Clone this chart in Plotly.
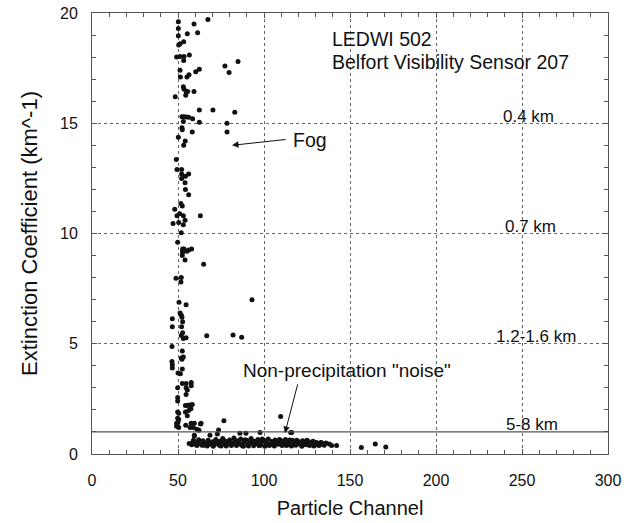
import plotly.graph_objects as go

# ---- data: vertical "fog" column (particle channel, extinction coefficient) ----
fog_x = [50.2, 59.3, 50.2, 61.4, 50.2, 55.4, 53.3, 51.2, 50.4, 49.2, 51.2, 53.5, 56.6, 53.3,
         51.2, 62.4, 60.3, 56.4, 55.2, 51.4, 53.1, 53.5, 54.7, 55.6, 54.5, 59.3, 48.4, 62.4,
         52.3, 53.5, 54.7, 56.2, 58.5, 62.4, 53.1, 52.3, 52.5, 58.3, 50.2, 54.2, 53.3, 49.0,
         49.4, 52.1, 52.1, 54.3, 56.2, 52.1, 54.1, 54.3, 56.2, 51.7, 52.5, 48.1, 51.0, 53.1,
         63.0, 49.4, 50.4, 54.1, 47.1, 53.1, 51.9, 49.8, 52.7, 53.5, 57.9, 56.2, 52.7, 52.5,
         52.7, 55.2, 54.1, 64.9, 48.8, 51.9, 51.7, 50.6, 54.7, 51.2, 51.9, 52.3, 46.7, 52.7,
         46.7, 52.1, 52.7, 51.9, 53.1, 54.7, 66.7, 46.5, 52.5, 51.9, 53.1, 52.3, 46.5, 46.7,
         46.7, 52.5, 51.4, 50.0, 52.5, 54.7, 57.7, 57.7, 54.7, 55.4, 49.8, 54.7, 49.8, 49.8,
         54.3, 55.4, 56.6, 58.3, 57.5, 54.3, 56.2, 55.4, 49.8, 50.4, 49.8, 50.4, 50.0, 49.2,
         49.2, 50.4, 49.6, 54.5, 57.6, 63.1, 57.0, 58.9, 61.0, 62.2, 59.5]
fog_y = [19.6, 19.5, 19.3, 19.1, 18.97, 19.06, 18.7, 18.6, 18.55, 18.0, 18.03, 18.03, 18.1, 17.85,
         17.4, 17.45, 17.33, 17.2, 17.1, 17.1, 16.65, 16.55, 16.44, 16.44, 16.27, 16.44, 16.2, 15.6,
         15.3, 15.3, 15.28, 15.27, 15.2, 15.05, 15.08, 14.8, 14.7, 14.6, 14.36, 14.2, 14.0, 13.36,
         12.9, 12.9, 12.7, 12.6, 12.7, 12.5, 12.3, 12.0, 11.76, 11.36, 11.25, 11.1, 10.9, 10.8,
         10.8, 10.8, 10.5, 10.6, 10.45, 10.4, 10.03, 9.6, 9.3, 9.3, 9.3, 9.25, 9.2, 9.0,
         9.15, 9.2, 8.8, 8.6, 7.97, 8.0, 7.8, 6.88, 6.77, 6.4, 6.3, 6.2, 6.13, 6.0,
         5.77, 5.77, 5.5, 5.37, 5.24, 5.27, 5.36, 4.88, 4.67, 4.35, 4.4, 4.3, 4.2, 4.05,
         3.9, 3.85, 3.64, 3.67, 3.2, 3.2, 3.24, 3.1, 3.0, 2.9, 3.0, 2.7, 2.56, 2.4,
         2.2, 2.2, 2.22, 2.25, 2.05, 1.9, 1.97, 1.73, 1.9, 1.85, 1.62, 1.58, 1.45, 1.4,
         1.26, 1.2, 1.3, 1.3, 1.39, 1.36, 1.2, 1.2, 1.12, 1.08, 0.82]

# ---- scattered points to the right of the column ----
scatter_x = [67.4, 77.3, 79.7, 84.9, 70.3, 78.5, 83.0, 78.5, 93.0, 82.0, 87.0,
             76.7, 68.6, 72.9, 73.6, 86.0, 89.5, 97.7, 109.7, 115.5, 59.5, 63.4, 59.5, 116.1]
scatter_y = [19.7, 17.6, 17.3, 17.8, 15.6, 15.0, 15.5, 14.6, 7.0, 5.4, 5.3,
             1.51, 0.85, 0.91, 1.09, 0.94, 0.94, 0.98, 1.7, 0.98, 0.85, 1.39, 1.39, 0.97]

# ---- dense "noise" band near the bottom ----
band_x = [56.5, 58, 58.5, 60, 61, 61.5, 63, 64, 64.5, 66, 67, 67.5, 69, 70, 70.5, 72, 72.5, 74,
          74.5, 76, 76.5, 78, 78.5, 80, 80.5, 82, 82.5, 84, 84.5, 86, 86.5, 88, 88.5, 90, 90.5,
          92, 92.5, 94, 94.5, 96, 96.5, 98, 98.5, 100, 100.5, 102, 102.5, 104, 104.5, 106,
          106.5, 108, 108.5, 110, 110.5, 112, 112.5, 114, 114.5, 116, 116.5, 118, 118.5, 120,
          120.5, 122, 122.5, 124, 124.5, 126, 126.5, 128, 128.5, 130, 130.5, 132, 132.5, 134,
          135, 136, 59, 62, 65, 68, 71, 73, 75, 77, 79, 81, 83, 85, 87, 89, 91, 93, 95, 97, 99,
          101, 103, 105, 107, 109, 111, 113, 115, 117, 119, 121, 123, 125, 127, 129, 131, 133,
          133.5, 138, 139.3, 142.2, 156.6, 164.7, 170.8]
band_y = [0.48, 0.42, 0.52, 0.45, 0.38, 0.55, 0.47, 0.40, 0.60, 0.50, 0.36, 0.62, 0.44, 0.55,
          0.35, 0.66, 0.48, 0.40, 0.58, 0.70, 0.45, 0.36, 0.55, 0.64, 0.43, 0.50, 0.72, 0.38,
          0.60, 0.47, 0.68, 0.35, 0.55, 0.62, 0.42, 0.50, 0.70, 0.37, 0.58, 0.46, 0.66, 0.40,
          0.55, 0.62, 0.35, 0.48, 0.68, 0.42, 0.57, 0.36, 0.63, 0.50, 0.44, 0.60, 0.38, 0.52,
          0.66, 0.42, 0.56, 0.36, 0.62, 0.48, 0.40, 0.57, 0.45, 0.35, 0.60, 0.50, 0.42, 0.56,
          0.38, 0.48, 0.58, 0.42, 0.52, 0.38, 0.48, 0.44, 0.40, 0.50, 0.62, 0.65, 0.40, 0.52,
          0.42, 0.55, 0.36, 0.60, 0.50, 0.38, 0.58, 0.52, 0.40, 0.65, 0.36, 0.55, 0.48, 0.38,
          0.68, 0.52, 0.38, 0.50, 0.45, 0.66, 0.46, 0.38, 0.64, 0.52, 0.62, 0.50, 0.45, 0.62,
          0.46, 0.36, 0.46, 0.52, 0.51, 0.45, 0.38, 0.38, 0.29, 0.45, 0.32]

# ---- labels ----
visibility_labels = ["0.4 km", "0.7 km", "1.2-1.6 km", "5-8 km"]
visibility_label_x = [254, 255, 258, 256]
visibility_label_y = [15.3, 10.3, 5.32, 1.32]
threshold_level = 1.0

x_tickvals = [0, 50, 100, 150, 200, 250, 300]
y_tickvals = [0, 5, 10, 15, 20]

FONT = "Liberation Sans, Arial, Helvetica, sans-serif"
INK = "#111111"
AXC = "#555555"

fig = go.Figure()
all_x = fog_x + scatter_x + band_x
all_y = fog_y + scatter_y + band_y
fig.add_trace(go.Scatter(x=all_x, y=all_y, mode="markers",
                         marker=dict(size=5, color=INK, line=dict(width=0)),
                         showlegend=False, hoverinfo="x+y"))
# invisible trace to anchor the mirrored (top/right) tick axes
fig.add_trace(go.Scatter(x=[0], y=[0], xaxis="x2", yaxis="y2", mode="markers",
                         marker=dict(opacity=0), showlegend=False, hoverinfo="skip"))

# solid threshold line
fig.add_hline(y=threshold_level, line=dict(color="#555555", width=1.2))

annotations = []
annotations.append(dict(x=138.4, y=18.8, xref="x", yref="y", text="LEDWI 502",
                        showarrow=False, xanchor="left", yanchor="middle",
                        font=dict(size=19.5, color=INK, family=FONT)))
annotations.append(dict(x=138.4, y=17.77, xref="x", yref="y", text="Belfort Visibility Sensor 207",
                        showarrow=False, xanchor="left", yanchor="middle",
                        font=dict(size=19.5, color=INK, family=FONT)))
for t, lx, ly in zip(visibility_labels, visibility_label_x, visibility_label_y):
    annotations.append(dict(x=lx, y=ly, xref="x", yref="y", text=t, showarrow=False,
                            xanchor="center", yanchor="middle",
                            font=dict(size=17, color=INK, family=FONT)))
annotations.append(dict(x=126.7, y=14.23, xref="x", yref="y", text="Fog", showarrow=False,
                        xanchor="center", yanchor="middle",
                        font=dict(size=19.5, color=INK, family=FONT)))
annotations.append(dict(x=148.3, y=3.77, xref="x", yref="y", text='Non-precipitation "noise"',
                        showarrow=False, xanchor="center", yanchor="middle",
                        font=dict(size=19, color=INK, family=FONT)))
# arrows
annotations.append(dict(x=81.4, y=14.0, ax=113.4, ay=14.27, xref="x", yref="y",
                        axref="x", ayref="y", text="", showarrow=True,
                        arrowhead=2, arrowsize=1.3, arrowwidth=1, arrowcolor=INK))
annotations.append(dict(x=112.2, y=0.95, ax=119.8, ay=3.23, xref="x", yref="y",
                        axref="x", ayref="y", text="", showarrow=True,
                        arrowhead=2, arrowsize=1.3, arrowwidth=1, arrowcolor=INK))

fig.update_layout(
    width=630, height=523,
    margin=dict(l=92, r=22, t=13, b=69, autoexpand=False),
    paper_bgcolor="white", plot_bgcolor="white",
    font=dict(family=FONT, color=INK),
    annotations=annotations,
    showlegend=False,
    xaxis=dict(
        range=[0, 300], tickvals=x_tickvals, ticks="inside", ticklen=5, tickcolor=AXC,
        minor=dict(dtick=10, ticks="inside", ticklen=4, tickcolor=AXC, showgrid=False),
        showline=True, linecolor=AXC, linewidth=1, mirror=True, automargin=False,
        showgrid=True, griddash="dot", gridcolor="#666666", gridwidth=1, zeroline=False,
        tickfont=dict(size=16, color=INK, family=FONT), ticklabelstandoff=12,
        title=dict(text="Particle Channel", font=dict(size=20, color=INK, family=FONT), standoff=12),
    ),
    yaxis=dict(
        range=[0, 20], tickvals=y_tickvals, ticks="inside", ticklen=5, tickcolor=AXC,
        minor=dict(dtick=1, ticks="inside", ticklen=4, tickcolor=AXC, showgrid=False),
        showline=True, linecolor=AXC, linewidth=1, mirror=True, automargin=False,
        showgrid=True, griddash="dot", gridcolor="#666666", gridwidth=1, zeroline=False,
        tickfont=dict(size=16, color=INK, family=FONT), ticklabelstandoff=10,
        title=dict(text="Extinction Coefficient (km^-1)", font=dict(size=22, color=INK, family=FONT),
                   standoff=16),
    ),
    xaxis2=dict(
        range=[0, 300], overlaying="x", side="top", anchor="y", showticklabels=False,
        tickvals=x_tickvals, ticks="inside", ticklen=5, tickcolor=AXC,
        minor=dict(dtick=10, ticks="inside", ticklen=4, tickcolor=AXC, showgrid=False),
        showgrid=False, zeroline=False, showline=False, automargin=False,
    ),
    yaxis2=dict(
        range=[0, 20], overlaying="y", side="right", anchor="x", showticklabels=False,
        tickvals=y_tickvals, ticks="inside", ticklen=5, tickcolor=AXC,
        minor=dict(dtick=1, ticks="inside", ticklen=4, tickcolor=AXC, showgrid=False),
        showgrid=False, zeroline=False, showline=False, automargin=False,
    ),
)

fig.write_html("out.html")
